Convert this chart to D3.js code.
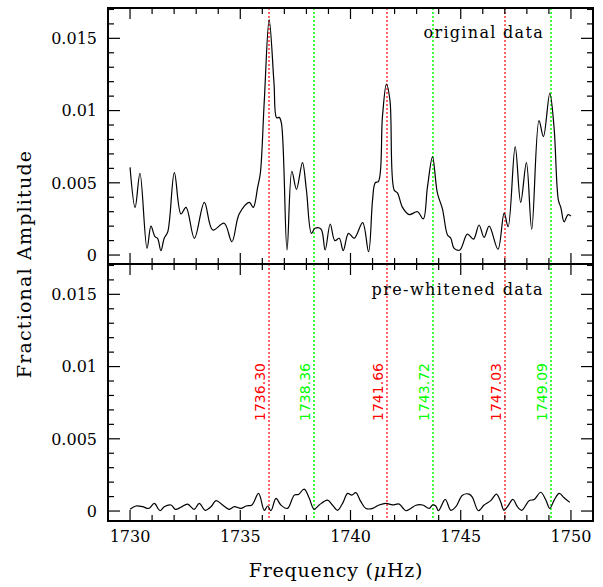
<!DOCTYPE html>
<html><head><meta charset="utf-8">
<script src="https://cdn.jsdelivr.net/npm/d3@7"></script>
<style>body{margin:0;background:#fff}svg{display:block}</style>
</head><body><svg id="c" width="603" height="587"></svg>
<script>
const topFreq = [1730.0,1730.23,1730.45,1730.77,1730.95,1731.13,1731.25,1731.40,1731.55,1731.71,1732.01,1732.31,1732.54,1732.92,1733.37,1733.75,1734.27,1734.62,1734.95,1735.41,1735.59,1735.79,1735.91,1736.09,1736.31,1736.53,1736.65,1736.77,1736.87,1737.12,1737.34,1737.55,1737.82,1738.0,1738.23,1738.39,1738.66,1738.85,1739.08,1739.29,1739.49,1739.67,1739.91,1740.17,1740.55,1740.82,1741.0,1741.12,1741.27,1741.45,1741.63,1741.79,1741.98,1742.13,1742.36,1742.66,1743.04,1743.30,1743.49,1743.72,1743.94,1744.17,1744.40,1744.55,1744.70,1744.96,1745.30,1745.58,1745.83,1746.06,1746.29,1746.69,1746.97,1747.15,1747.47,1747.72,1747.98,1748.22,1748.55,1748.75,1749.04,1749.23,1749.43,1749.54,1749.69,1749.87,1750.0];
const topAmp = [0.00607,0.0033,0.00566,0.00046,0.0020,0.00127,0.00116,0.0003,0.00116,0.0016,0.0057,0.00284,0.0033,0.00116,0.00365,0.00173,0.0022,0.00092,0.00284,0.00365,0.0033,0.0047,0.00566,0.0107,0.0163,0.0119,0.0095,0.00953,0.0091,0.00035,0.0058,0.00455,0.0064,0.0045,0.0015,0.00185,0.0018,0.00035,0.00215,0.0010,0.00116,0.0003,0.0015,0.00116,0.00224,0.00023,0.0038,0.0050,0.0051,0.0096,0.01184,0.0107,0.0045,0.0043,0.0033,0.0028,0.0030,0.0025,0.0047,0.0068,0.0043,0.0032,0.00139,0.00116,0.00046,0.00035,0.00145,0.0011,0.00208,0.00122,0.0020,0.0004,0.0029,0.00196,0.0075,0.00365,0.0064,0.00178,0.0093,0.0082,0.0112,0.0089,0.0038,0.0033,0.0023,0.0028,0.0027];
const botFreq = [1730.0,1730.27,1730.57,1730.85,1731.10,1731.36,1731.55,1731.86,1732.05,1732.31,1732.61,1732.91,1733.14,1733.41,1733.67,1733.90,1734.20,1734.50,1734.73,1735.03,1735.26,1735.53,1735.83,1736.09,1736.24,1736.39,1736.62,1736.84,1737.14,1737.45,1737.64,1737.90,1738.13,1738.35,1738.58,1738.96,1739.18,1739.41,1739.64,1739.87,1740.06,1740.24,1740.47,1740.70,1741.00,1741.30,1741.60,1741.91,1742.21,1742.51,1742.74,1742.97,1743.27,1743.57,1743.72,1743.87,1743.99,1744.30,1744.55,1744.78,1745.08,1745.38,1745.53,1745.80,1746.06,1746.36,1746.62,1746.81,1746.96,1747.12,1747.37,1747.57,1747.77,1748.10,1748.33,1748.63,1748.86,1749.04,1749.24,1749.47,1749.69,1749.95];
const botAmp = [0.00012,0.00035,0.0003,0.00018,0.00053,0.00002,0.0003,0.00042,0.00012,0.00026,0.00048,0.00012,0.00053,0.00005,0.0003,0.00072,0.00042,0.00012,0.0003,0.00018,0.00035,0.00042,0.00122,0.00005,0.00035,0.00002,0.00088,0.00042,0.00018,0.0011,0.00115,0.00152,0.00088,0.00012,0.00042,0.00076,0.00042,0.00005,0.00053,0.00122,0.0011,0.00127,0.00065,0.00018,0.00018,0.00042,0.00053,0.00042,0.00048,0.00002,0.00018,0.0004,0.00042,0.00018,0.00042,0.00035,0.00002,0.0008,0.00005,0.0003,0.0011,0.00117,0.00095,0.00002,0.00042,0.00072,0.00117,0.00065,0.00005,0.0003,0.0008,0.0003,0.00005,0.00072,0.0008,0.0013,0.00076,0.00018,0.00076,0.00122,0.00092,0.0006];
const redFreqs = [1736.30,1741.66,1747.03];
const greenFreqs = [1738.36,1743.72,1749.09];
const xTickLabels = [1730,1735,1740,1745,1750];
const yTickLabels = [0,0.005,0.01,0.015];
const panelLabels = ["original data","pre-whitened data"];

const svg = d3.select("#c");
const L=108, R=593, T=8, MID=264, B=521;
const x = d3.scaleLinear().domain([1729,1751]).range([L,R]);
const yTop = d3.scaleLinear().domain([-0.00062,0.0171]).range([MID,T]);
const yBot = d3.scaleLinear().domain([-0.00069,0.0171]).range([B,MID]);
const serif = "DejaVu Serif";
const px = v => Math.round(x(v));

const panels = [
  {y:yTop, t:T, b:MID, f:topFreq, a:topAmp, label:panelLabels[0], ly:38, ls:1.3},
  {y:yBot, t:MID, b:B, f:botFreq, a:botAmp, label:panelLabels[1], ly:295, ls:1.4}
];
const minorX = d3.range(1730,1751,1);
const minorY = d3.range(0,0.01701,0.001);

panels.forEach((p,pi)=>{
  const g = svg.append("g");
  redFreqs.forEach(f=>g.append("line").attr("x1",px(f)).attr("x2",px(f)).attr("y1",p.t).attr("y2",p.b)
    .attr("stroke","#ff0000").attr("stroke-width",1.2).attr("stroke-dasharray","2,2"));
  greenFreqs.forEach(f=>g.append("line").attr("x1",px(f)).attr("x2",px(f)).attr("y1",p.t).attr("y2",p.b)
    .attr("stroke","#00ff00").attr("stroke-width",1.5).attr("stroke-dasharray","2,2"));
  const line = d3.line().x((d,i)=>x(p.f[i])).y((d,i)=>p.y(p.a[i])).curve(d3.curveCatmullRom.alpha(0.5));
  g.append("path").attr("d",line(p.f)).attr("fill","none").attr("stroke","#000").attr("stroke-width",1.2);
  minorX.forEach(v=>{
    const len = (v%5===0)?11:6;
    g.append("line").attr("x1",x(v)).attr("x2",x(v)).attr("y1",p.t).attr("y2",p.t+len).attr("stroke","#000").attr("stroke-width",1.2);
    g.append("line").attr("x1",x(v)).attr("x2",x(v)).attr("y1",p.b).attr("y2",p.b-len).attr("stroke","#000").attr("stroke-width",1.2);
  });
  minorY.forEach(v=>{
    const major = yTickLabels.some(t=>Math.abs(t-v)<1e-7);
    const len = major?12:6;
    g.append("line").attr("x1",L).attr("x2",L+len).attr("y1",p.y(v)).attr("y2",p.y(v)).attr("stroke","#000").attr("stroke-width",1.2);
    g.append("line").attr("x1",R).attr("x2",R-len).attr("y1",p.y(v)).attr("y2",p.y(v)).attr("stroke","#000").attr("stroke-width",1.2);
  });
  yTickLabels.forEach(v=>{
    g.append("text").attr("x",97).attr("y",p.y(v)).attr("dy","0.36em").attr("text-anchor","end")
      .attr("font-family",serif).attr("font-size",16).text(String(v));
  });
  g.append("rect").attr("x",L).attr("y",p.t).attr("width",R-L).attr("height",p.b-p.t)
    .attr("fill","none").attr("stroke","#000").attr("stroke-width",2);
  g.append("text").attr("x",544).attr("y",p.ly).attr("text-anchor","end")
    .attr("font-family",serif).attr("font-size",16).attr("letter-spacing",p.ls).text(p.label);
});

redFreqs.concat(greenFreqs).forEach((f,i)=>{
  svg.append("text").attr("transform",`translate(${x(f)-4},392) rotate(-90)`)
    .attr("text-anchor","middle").attr("font-family","DejaVu Sans").attr("font-size",14)
    .attr("fill", i<3?"#ff0000":"#00ff00").text(f.toFixed(2));
});

xTickLabels.forEach(v=>{
  svg.append("text").attr("x",x(v)).attr("y",542).attr("text-anchor","middle")
    .attr("font-family",serif).attr("font-size",16).text(v);
});
const xt = svg.append("text").attr("x",336).attr("y",577).attr("text-anchor","middle")
  .attr("font-family",serif).attr("font-size",19).attr("letter-spacing",0.8);
xt.append("tspan").text("Frequency (");
xt.append("tspan").attr("font-style","italic").text("μ");
xt.append("tspan").text("Hz)");
svg.append("text").attr("transform","translate(31,264) rotate(-90)").attr("text-anchor","middle")
  .attr("font-family",serif).attr("font-size",19).attr("letter-spacing",1.2).text("Fractional Amplitude");
</script></body></html>
